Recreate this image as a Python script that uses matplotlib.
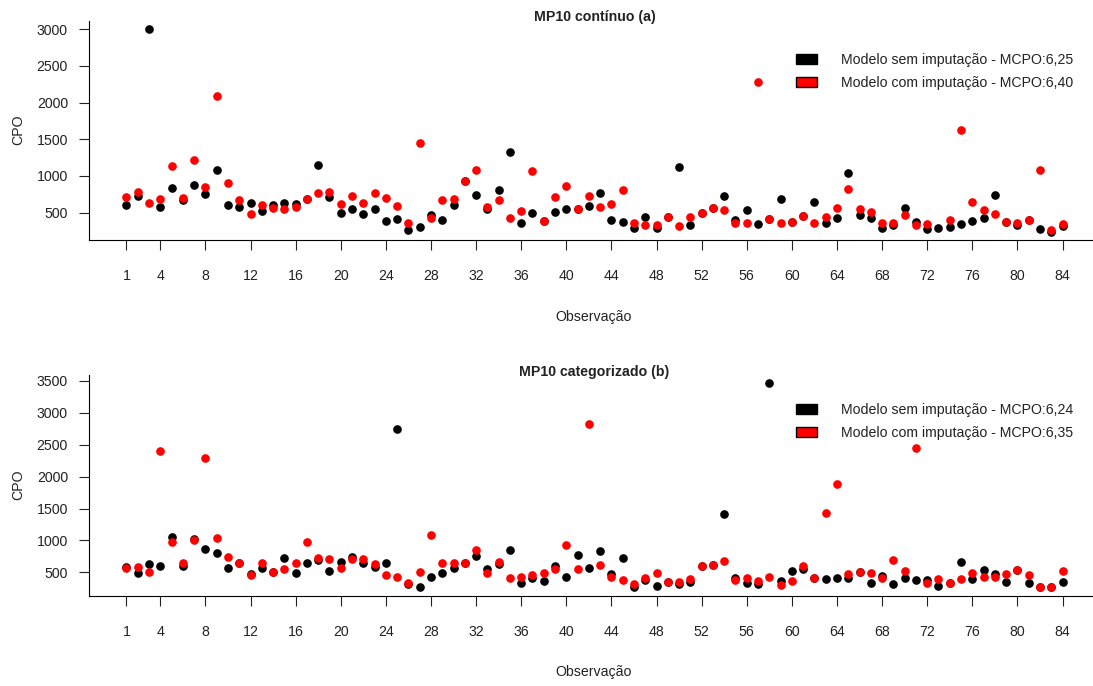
import numpy as np
import matplotlib
matplotlib.use("Agg")
import matplotlib.pyplot as plt
from matplotlib.patches import Patch

plt.rcParams['font.family'] = ['Liberation Sans', 'DejaVu Sans']

# --- dados ---
obs = np.arange(1, 85)
xticks = [1] + list(range(4, 85, 4))

# painel (a): MP10 contínuo
cpo_sem_a = [599, 722, 3000, 577, 830, 667, 871, 758, 1080, 609,
             577, 627, 523, 599, 632, 613, 686, 1143, 713, 491,
             550, 482, 554, 391, 418, 260, 300, 473, 405, 609,
             935, 740, 554, 803, 1329, 360, 496, 382, 509, 554,
             550, 595, 762, 405, 378, 296, 437, 287, 437, 1121,
             328, 496, 568, 731, 395, 536, 346, 418, 686, 369,
             450, 641, 360, 432, 1034, 464, 428, 296, 328, 568,
             369, 278, 287, 300, 346, 391, 432, 745, 373, 333,
             405, 282, 238, 314]
cpo_com_a = [713, 781, 636, 686, 1139, 700, 1211, 844, 2090, 908,
             667, 482, 599, 563, 550, 572, 686, 762, 776, 613,
             731, 627, 762, 700, 595, 364, 1447, 432, 672, 686,
             935, 1080, 582, 672, 432, 523, 1066, 382, 713, 862,
             554, 731, 582, 613, 803, 364, 328, 328, 437, 314,
             437, 496, 568, 536, 364, 364, 2284, 418, 364, 373,
             450, 364, 437, 563, 817, 554, 509, 364, 364, 473,
             333, 351, np.nan, 405, 1624, 641, 541, 477, 373, 360,
             405, 1080, 269, 346]

# painel (b): MP10 categorizado
cpo_sem_b = [588, 484, 625, 603, 1058, 603, 1026, 860, 802, 562,
             641, 469, 562, 500, 724, 484, 651, 693, 520, 661,
             745, 651, 583, 641, 2739, 317, 265, 432, 484, 562,
             651, 750, 557, 625, 854, 328, 411, 364, 603, 432,
             771, 567, 838, 469, 719, 275, 380, 281, 348, 317,
             348, 603, 619, 1418, 411, 328, 312, 3464, 364, 520,
             552, 406, 401, 416, 411, 500, 333, 442, 312, 416,
             380, 385, 281, 333, 656, 390, 536, 469, 348, 531,
             333, 270, 270, 348]
cpo_com_b = [572, 588, 505, 2399, 974, 646, 1001, 2294, 1042, 740,
             641, 458, 641, 500, 552, 651, 979, 724, 703, 562,
             714, 703, 630, 453, 432, 338, 505, 1079, 641, 646,
             651, 844, 484, 666, 411, 432, 458, 484, 552, 927,
             552, 2822, 619, 432, 380, 317, 411, 484, 348, 348,
             395, 603, 619, 672, 380, 411, 364, 432, 301, 364,
             594, 406, 1433, 1887, 469, 500, 484, 411, 688, 515,
             2446, 338, 390, 333, 395, 484, 432, 422, 469, 531,
             453, 270, 270, 515]

paineis = [
    ("MP10 contínuo (a)", cpo_sem_a, cpo_com_a, ("6,25", "6,40"),
     [500, 1000, 1500, 2000, 2500, 3000], (128, 3110)),
    ("MP10 categorizado (b)", cpo_sem_b, cpo_com_b, ("6,24", "6,35"),
     [500, 1000, 1500, 2000, 2500, 3000, 3500], (137, 3592)),
]

W, H = 1093, 686
fig = plt.figure(figsize=(W / 100, H / 100), dpi=100)

# posições em pixels: (esq, dir, topo, base)
caixas = [(89, 1100, 21, 240), (89, 1100, 375, 595.5)]
titulo_y = [17, 372]
leg_y = [43, 393]
xlab_y = [317, 672]
ylab_y = [130, 485]
fs = 10.2

for k, (titulo, sem, com, mcpo, yt, ylim) in enumerate(paineis):
    l, r, t, b = caixas[k]
    ax = fig.add_axes([l / W, 1 - b / H, (r - l) / W, (b - t) / H])
    ax.plot(obs, sem, 'o', color='black', ms=5.2, zorder=2)
    ax.plot(obs, com, 'o', color='red', ms=5.2, zorder=3)
    ax.set_xlim(1 - 3.32, 84 + 3.32)
    ax.set_ylim(*ylim)
    ax.set_xticks(xticks)
    ax.set_yticks(yt)
    ax.spines['top'].set_visible(False)
    ax.spines['right'].set_visible(False)
    ax.tick_params(axis='x', length=7.2, width=0.8, pad=14, labelsize=fs,
                   colors='#222222')
    ax.tick_params(axis='y', length=7.2, width=0.8, pad=8, labelsize=fs,
                   colors='#222222')
    fig.text((l + r) / 2 / W, 1 - titulo_y[k] / H, titulo, ha='center',
             va='center', fontsize=fs, fontweight='bold', color='#222222')
    fig.text(594 / W, 1 - xlab_y[k] / H, "Observação", ha='center',
             va='center', fontsize=fs, color='#222222')
    fig.text(18 / W, 1 - ylab_y[k] / H, "CPO", ha='center', va='center',
             rotation=90, fontsize=fs, color='#222222')
    handles = [Patch(facecolor='black', edgecolor='black'),
               Patch(facecolor='red', edgecolor='black')]
    labels = ["Modelo sem imputação - MCPO:" + mcpo[0],
              "Modelo com imputação - MCPO:" + mcpo[1]]
    ax.legend(handles, labels, loc='upper left',
              bbox_to_anchor=(786 / W, 1 - leg_y[k] / H),
              bbox_transform=fig.transFigure, frameon=False,
              fontsize=fs, handlelength=1.5, handleheight=0.72,
              handletextpad=1.65, labelspacing=0.62, borderpad=0.2,
              labelcolor='#222222')

fig.savefig("out.png", dpi=100)
